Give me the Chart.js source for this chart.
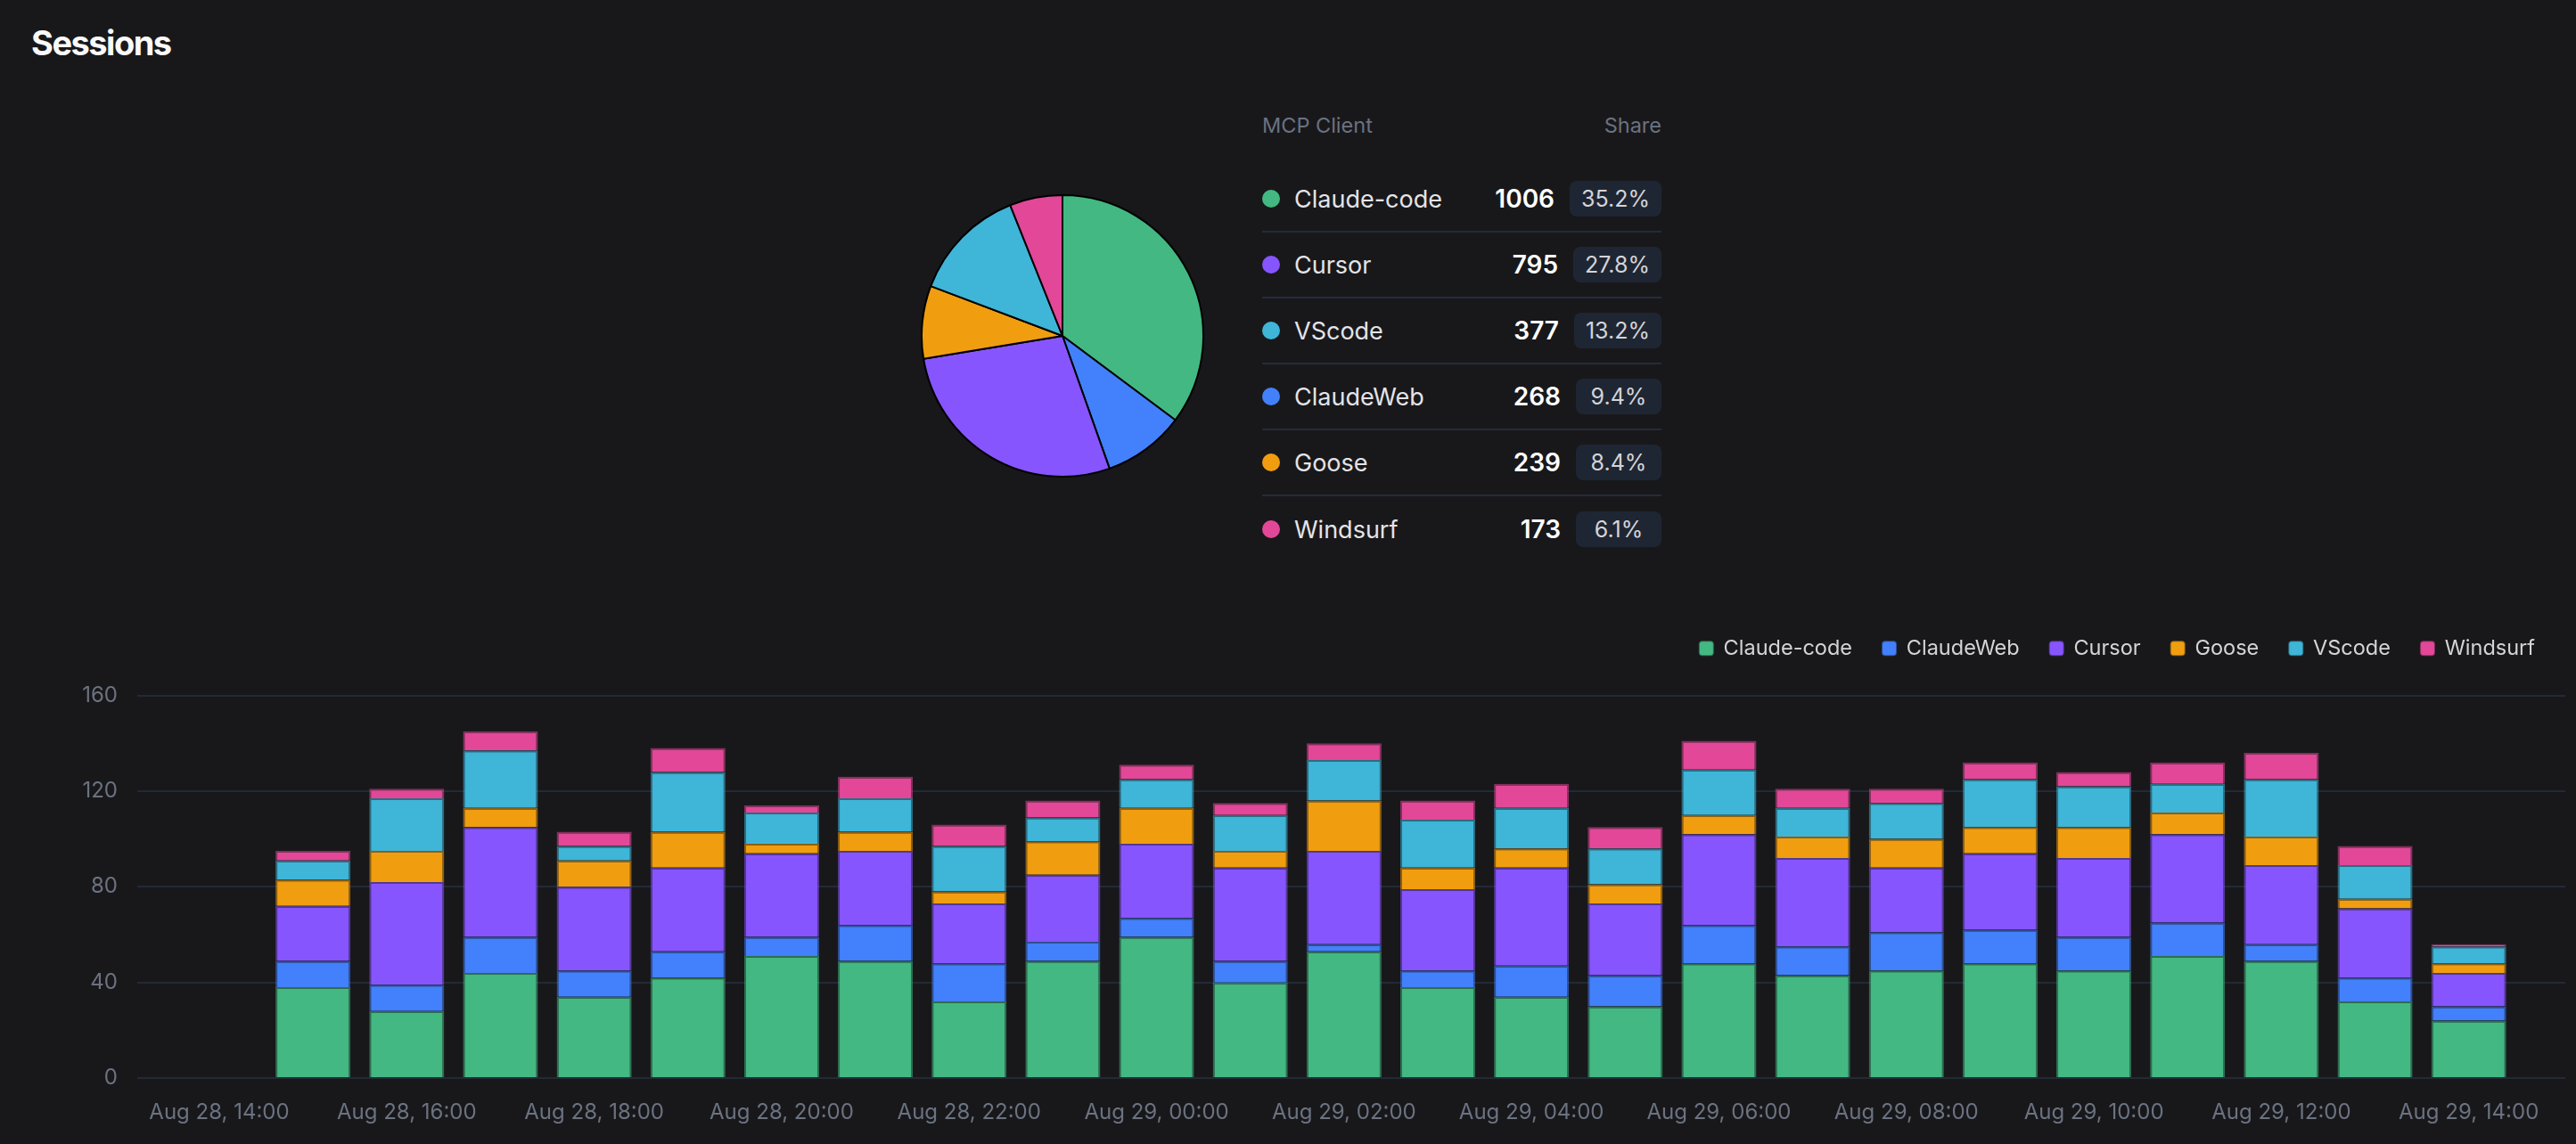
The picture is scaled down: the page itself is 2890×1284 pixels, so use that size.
<!DOCTYPE html>
<html>
<head>
<meta charset="utf-8">
<title>Sessions</title>
<script src="https://cdn.jsdelivr.net/npm/chart.js@4.4.1/dist/chart.umd.min.js"></script>
<style>
  html, body { margin: 0; padding: 0; background: #18181b; }
  body {
    width: 2890px; height: 1284px; position: relative; overflow: hidden;
    font-family: Inter, "Noto Sans", sans-serif; color: #e4e4e7;
  }
  h1 {
    position: absolute; left: 35px; top: 24px; margin: 0;
    font-size: 38px; line-height: 48px; font-weight: 700; color: #fafafa; letter-spacing: -1.5px;
  }
  #pieBox { position: absolute; left: 1033px; top: 218px; width: 318px; height: 318px; }
  #share { position: absolute; left: 1416px; top: 127px; width: 448px; }
  #share .head {
    display: flex; justify-content: space-between; height: 28px; line-height: 28px;
    font-size: 23.5px; color: #6b7280; margin-bottom: 32px;
  }
  #share .row {
    display: flex; align-items: center; box-sizing: border-box; height: 74px;
    border-bottom: 2px solid #252c38;
  }
  #share .row:last-child { border-bottom: none; }
  #share .dot { width: 20px; height: 20px; border-radius: 50%; margin-right: 16px; flex: none; }
  #share .name { flex: 1; font-size: 27px; color: #e4e4e7; }
  #share .count { font-size: 28px; font-weight: 600; color: #ffffff; }
  #share .badge {
    margin-left: 17px; min-width: 96px; box-sizing: border-box; padding: 0 13px;
    height: 40px; line-height: 40px; border-radius: 8px; text-align: center;
    background: #1f2633; color: #d4d4d8; font-size: 25px;
  }
  #barBox { position: absolute; left: 0; top: 682px; width: 2890px; height: 602px; }
</style>
</head>
<body>
<h1>Sessions</h1>
<div id="pieBox"><canvas id="pie"></canvas></div>
<div id="share">
  <div class="head"><span>MCP Client</span><span>Share</span></div>
  <div id="rows"></div>
</div>
<div id="barBox"><canvas id="bars"></canvas></div>

<script>
// hourly buckets, one bar each
const hours = [
  'Aug 28, 15:00', 'Aug 28, 16:00', 'Aug 28, 17:00', 'Aug 28, 18:00', 'Aug 28, 19:00',
  'Aug 28, 20:00', 'Aug 28, 21:00', 'Aug 28, 22:00', 'Aug 28, 23:00', 'Aug 29, 00:00',
  'Aug 29, 01:00', 'Aug 29, 02:00', 'Aug 29, 03:00', 'Aug 29, 04:00', 'Aug 29, 05:00',
  'Aug 29, 06:00', 'Aug 29, 07:00', 'Aug 29, 08:00', 'Aug 29, 09:00', 'Aug 29, 10:00',
  'Aug 29, 11:00', 'Aug 29, 12:00', 'Aug 29, 13:00', 'Aug 29, 14:00'
]
// x axis labels, every 2 hours starting Aug 28, 14:00
const tickLabels = [
  'Aug 28, 14:00', 'Aug 28, 16:00', 'Aug 28, 18:00', 'Aug 28, 20:00', 'Aug 28, 22:00',
  'Aug 29, 00:00', 'Aug 29, 02:00', 'Aug 29, 04:00', 'Aug 29, 06:00', 'Aug 29, 08:00',
  'Aug 29, 10:00', 'Aug 29, 12:00', 'Aug 29, 14:00'
]

const clients = ['Claude-code', 'ClaudeWeb', 'Cursor', 'Goose', 'VScode', 'Windsurf']
const colors = ['#43b882', '#4380fb', '#8755fd', '#f09e10', '#3fb5d8', '#e24897']

const claudeCode = [38, 28, 44, 34, 42, 51, 49, 32, 49, 59, 40, 53, 38, 34, 30, 48, 43, 45, 48, 45, 51, 49, 32, 24]
const claudeWeb  = [11, 11, 15, 11, 11, 8, 15, 16, 8, 8, 9, 3, 7, 13, 13, 16, 12, 16, 14, 14, 14, 7, 10, 6]
const cursor     = [23, 43, 46, 35, 35, 35, 31, 25, 28, 31, 39, 39, 34, 41, 30, 38, 37, 27, 32, 33, 37, 33, 29, 14]
const goose      = [11, 13, 8, 11, 15, 4, 8, 5, 14, 15, 7, 21, 9, 8, 8, 8, 9, 12, 11, 13, 9, 12, 4, 4]
const vscode     = [8, 22, 24, 6, 25, 13, 14, 19, 10, 12, 15, 17, 20, 17, 15, 19, 12, 15, 20, 17, 12, 24, 14, 7]
const windsurf   = [4, 4, 8, 6, 10, 3, 9, 9, 7, 6, 5, 7, 8, 10, 9, 12, 8, 6, 7, 6, 9, 11, 8, 1]

const series = [claudeCode, claudeWeb, cursor, goose, vscode, windsurf]

Chart.defaults.font.family = 'Inter, "Noto Sans", sans-serif'
Chart.defaults.animation = false

// ---- share pie + table ----
const totals = series.map(s => s.reduce((a, b) => a + b, 0))
const grand = totals.reduce((a, b) => a + b, 0)

new Chart(document.getElementById('pie'), {
  type: 'pie',
  data: {
    labels: clients,
    datasets: [{
      data: totals,
      backgroundColor: colors,
      borderColor: '#000000',
      borderWidth: 2
    }]
  },
  options: {
    responsive: true,
    maintainAspectRatio: false,
    plugins: { legend: { display: false }, tooltip: { enabled: false } }
  }
})

const order = clients.map((c, i) => i).sort((a, b) => totals[b] - totals[a])
const rowsEl = document.getElementById('rows')
order.forEach(i => {
  const row = document.createElement('div')
  row.className = 'row'
  row.innerHTML =
    `<span class="dot" style="background:${colors[i]}"></span>` +
    `<span class="name">${clients[i]}</span>` +
    `<span class="count">${totals[i]}</span>` +
    `<span class="badge">${(totals[i] / grand * 100).toFixed(1)}%</span>`
  rowsEl.appendChild(row)
})

// ---- hourly stacked bars ----
// x is hours after Aug 28, 14:00
const slots = hours.map((h, i) => i + 1)

new Chart(document.getElementById('bars'), {
  type: 'bar',
  data: {
    datasets: clients.map((name, k) => ({
      label: name,
      data: series[k].map((v, i) => ({ x: slots[i], y: v })),
      backgroundColor: colors[k],
      borderColor: colors[k] + '88',
      borderWidth: 2,
      barPercentage: 1,
      categoryPercentage: 0.8
    }))
  },
  options: {
    responsive: true,
    maintainAspectRatio: false,
    layout: { padding: { left: 91, right: 12, top: 0, bottom: 21 } },
    plugins: {
      tooltip: { enabled: false },
      legend: {
        position: 'top',
        align: 'end',
        labels: {
          boxWidth: 15,
          boxHeight: 15,
          useBorderRadius: true,
          borderRadius: 3,
          padding: 34,
          color: '#d4d4d8',
          font: { size: 23.5 }
        }
      },
      // spacer between legend and plot
      subtitle: {
        display: true,
        text: '',
        weight: 500,
        font: { size: 10 },
        padding: { top: 0, bottom: 19 }
      }
    },
    scales: {
      x: {
        type: 'linear',
        stacked: true,
        offset: false,
        bounds: 'data',
        min: -0.875,
        max: 25.03,
        grid: { display: false, drawTicks: false },
        border: { display: false },
        afterBuildTicks: (scale) => {
          scale.ticks = tickLabels.map((t, j) => ({ value: j * 2 }))
        },
        afterFit: (scale) => { scale.height = 53 },
        ticks: {
          autoSkip: false,
          maxRotation: 0,
          padding: 24,
          color: '#6b7280',
          font: { size: 24 },
          callback: (value) => tickLabels[value / 2]
        }
      },
      y: {
        stacked: true,
        min: 0,
        max: 160,
        grid: { color: '#222a36', lineWidth: 2, drawTicks: false },
        border: { display: false },
        afterFit: (scale) => { scale.width = 63 },
        ticks: {
          stepSize: 40,
          padding: 22,
          color: '#6b7280',
          font: { size: 24 }
        }
      }
    }
  }
})
</script>
</body>
</html>
